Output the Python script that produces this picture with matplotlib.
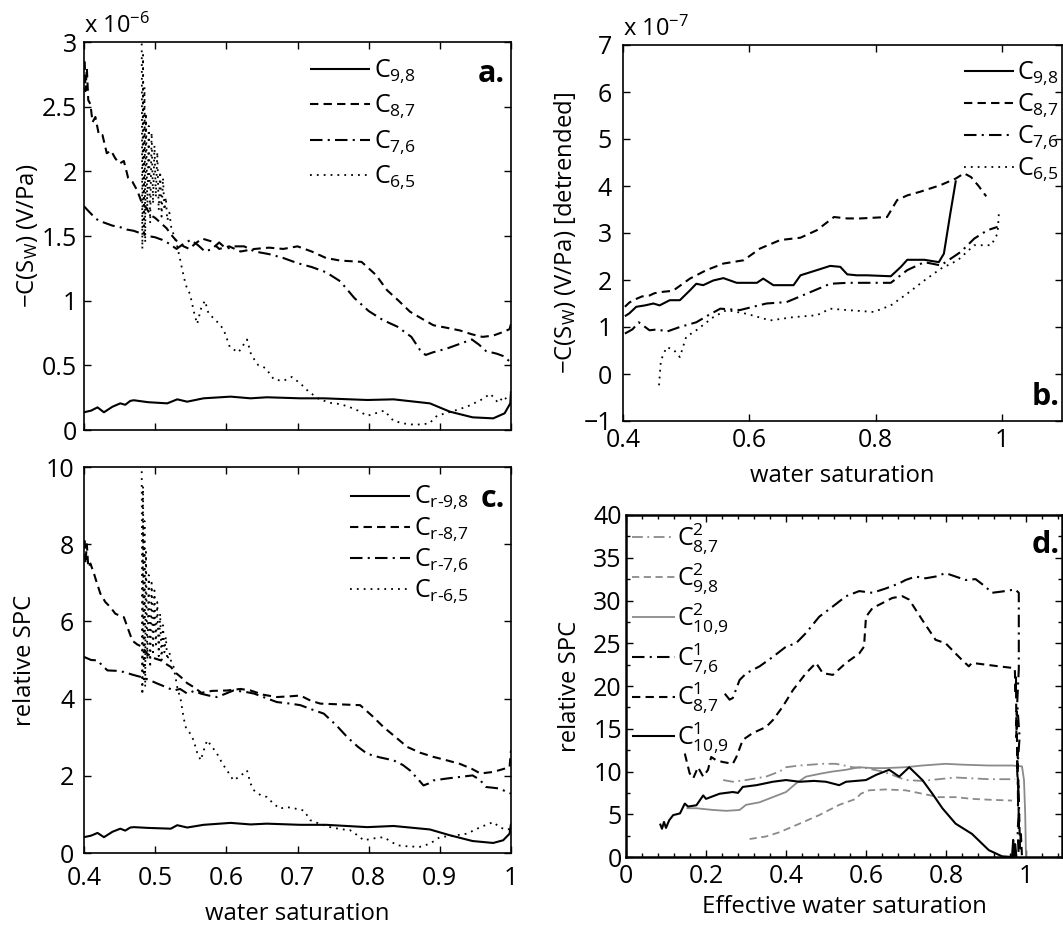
import numpy as np
import matplotlib
matplotlib.use("Agg")
import matplotlib.pyplot as plt
from matplotlib.ticker import FixedLocator, MultipleLocator

plt.rcParams['font.family'] = ['Open Sans', 'DejaVu Sans']
plt.rcParams['mathtext.fontset'] = 'custom'
plt.rcParams['mathtext.rm'] = 'Open Sans'
plt.rcParams['mathtext.it'] = 'Open Sans:italic'
plt.rcParams['mathtext.bf'] = 'Open Sans:bold'

######## data
# panel a (units of 1e-6 V/Pa)
a98_x = [0.400, 0.410, 0.419, 0.428, 0.440, 0.451, 0.458, 0.465, 0.470, 0.490, 0.517, 0.531, 0.545, 0.568, 0.606, 0.634,
         0.657, 0.704, 0.737, 0.798, 0.835, 0.886, 0.914, 0.946, 0.975, 0.991, 0.999, 1.000]
a98_y = [0.137, 0.15, 0.175, 0.137, 0.18, 0.206, 0.195, 0.225, 0.23, 0.215, 0.206, 0.237, 0.219, 0.245, 0.258, 0.245,
         0.253, 0.245, 0.245, 0.232, 0.237, 0.206, 0.142, 0.098, 0.09, 0.129, 0.206, 0.30]
a87_x = [0.401, 0.402, 0.404, 0.406, 0.409, 0.412, 0.416, 0.421, 0.426, 0.432, 0.438, 0.444, 0.450, 0.456, 0.462, 0.468,
         0.475, 0.481, 0.487, 0.494, 0.500, 0.508, 0.516, 0.524, 0.532, 0.540, 0.548, 0.556, 0.566, 0.578, 0.590, 0.604,
         0.620, 0.640, 0.660, 0.680, 0.700, 0.720, 0.740, 0.760, 0.790, 0.810, 0.826, 0.842, 0.858, 0.875, 0.891, 0.910,
         0.928, 0.945, 0.960, 0.975, 0.990, 0.998, 1.0]
a87_y = [2.85, 2.62, 2.8, 2.55, 2.52, 2.38, 2.42, 2.28, 2.28, 2.14, 2.16, 2.1, 2.06, 2.08, 1.95, 1.92,
         1.85, 1.76, 1.72, 1.66, 1.64, 1.6, 1.56, 1.5, 1.45, 1.42, 1.40, 1.44, 1.48, 1.46, 1.40, 1.42,
         1.38, 1.40, 1.41, 1.40, 1.42, 1.38, 1.33, 1.31, 1.30, 1.20, 1.08, 1.0, 0.915, 0.86, 0.81, 0.79,
         0.77, 0.74, 0.72, 0.73, 0.76, 0.78, 0.82]
a76_x = [0.400, 0.405, 0.412, 0.420, 0.430, 0.440, 0.450, 0.460, 0.470, 0.480, 0.490, 0.500, 0.510, 0.520, 0.530, 0.540,
         0.550, 0.560, 0.570, 0.580, 0.590, 0.600, 0.610, 0.625, 0.640, 0.660, 0.680, 0.700, 0.720, 0.740, 0.760, 0.780,
         0.800, 0.820, 0.840, 0.860, 0.872, 0.880, 0.890, 0.910, 0.930, 0.945, 0.955, 0.965, 0.980, 0.990, 1.0]
a76_y = [1.73, 1.70, 1.66, 1.62, 1.60, 1.58, 1.57, 1.55, 1.54, 1.52, 1.50, 1.49, 1.47, 1.44, 1.40, 1.44,
         1.47, 1.43, 1.38, 1.40, 1.45, 1.40, 1.42, 1.42, 1.38, 1.36, 1.33, 1.29, 1.26, 1.22, 1.15, 1.02,
         0.92, 0.85, 0.80, 0.72, 0.62, 0.58, 0.60, 0.63, 0.67, 0.70, 0.66, 0.61, 0.59, 0.57, 0.52]
a65_x = [0.481, 0.482, 0.483, 0.484, 0.485, 0.486, 0.487, 0.489, 0.491, 0.493, 0.495, 0.497, 0.499, 0.501, 0.503, 0.505,
         0.507, 0.509, 0.511, 0.513, 0.515, 0.517, 0.520, 0.523, 0.527, 0.531, 0.535, 0.538, 0.543, 0.549, 0.555, 0.559,
         0.565, 0.570, 0.575, 0.585, 0.596, 0.605, 0.617, 0.629, 0.635, 0.645, 0.655, 0.667, 0.680, 0.692, 0.704, 0.715,
         0.730, 0.746, 0.760, 0.772, 0.785, 0.798, 0.810, 0.822, 0.835, 0.850, 0.865, 0.885, 0.896, 0.915, 0.938, 0.957,
         0.971, 0.982, 0.990, 0.998]
a65_y = [3.2, 1.4, 2.9, 1.5, 2.65, 1.45, 2.45, 1.7, 2.35, 1.6, 2.3, 1.75, 2.2, 1.8, 2.15, 1.7,
         2.0, 1.65, 1.95, 1.7, 1.8, 1.62, 1.68, 1.55, 1.5, 1.42, 1.32, 1.24, 1.12, 1.05, 0.9, 0.82,
         0.95, 1.0, 0.9, 0.85, 0.78, 0.64, 0.6, 0.70, 0.58, 0.5, 0.48, 0.39, 0.38, 0.41, 0.36, 0.30,
         0.24, 0.21, 0.2, 0.18, 0.15, 0.11, 0.13, 0.15, 0.07, 0.05, 0.04, 0.05, 0.11, 0.14, 0.18, 0.23,
         0.28, 0.21, 0.26, 0.21]

# panel b (units of 1e-7 V/Pa, detrended)
b98_x = [0.403, 0.410, 0.421, 0.435, 0.448, 0.458, 0.474, 0.490, 0.506, 0.516, 0.527, 0.543, 0.559, 0.580, 0.612, 0.622,
         0.638, 0.670, 0.681, 0.707, 0.728, 0.744, 0.755, 0.770, 0.786, 0.824, 0.840, 0.850, 0.877, 0.900, 0.908, 0.918, 0.927]
b98_y = [1.23, 1.29, 1.43, 1.46, 1.50, 1.46, 1.57, 1.57, 1.78, 1.92, 1.89, 1.99, 2.04, 1.94, 1.94, 2.03,
         1.89, 1.89, 2.10, 2.21, 2.30, 2.28, 2.12, 2.10, 2.10, 2.08, 2.28, 2.43, 2.43, 2.38, 2.56, 3.4, 4.12]
b87_x = [0.403, 0.410, 0.418, 0.430, 0.442, 0.450, 0.464, 0.479, 0.506, 0.532, 0.559, 0.591, 0.617, 0.649, 0.681, 0.707,
         0.734, 0.755, 0.776, 0.818, 0.834, 0.850, 0.871, 0.903, 0.927, 0.940, 0.951, 0.963, 0.975]
b87_y = [1.43, 1.52, 1.58, 1.65, 1.67, 1.72, 1.75, 1.77, 2.03, 2.21, 2.35, 2.42, 2.67, 2.85, 2.90, 3.06,
         3.34, 3.31, 3.31, 3.34, 3.70, 3.80, 3.88, 4.02, 4.16, 4.27, 4.19, 4.0, 3.78]
b76_x = [0.403, 0.415, 0.425, 0.442, 0.455, 0.469, 0.490, 0.516, 0.535, 0.554, 0.585, 0.627, 0.659, 0.691, 0.728, 0.755,
         0.797, 0.824, 0.850, 0.877, 0.903, 0.935, 0.956, 0.977, 0.993]
b76_y = [0.86, 0.95, 1.1, 0.93, 0.95, 0.9, 1.0, 1.1, 1.25, 1.39, 1.36, 1.5, 1.53, 1.71, 1.92, 1.94,
         1.94, 1.94, 2.21, 2.38, 2.31, 2.6, 2.88, 3.06, 3.13]
b65_x = [0.457, 0.460, 0.469, 0.480, 0.490, 0.500, 0.516, 0.543, 0.564, 0.596, 0.633, 0.670, 0.707, 0.728, 0.755, 0.797,
         0.824, 0.850, 0.877, 0.903, 0.930, 0.956, 0.983, 0.993, 0.995]
b65_y = [-0.24, 0.29, 0.57, 0.52, 0.36, 0.79, 0.93, 1.21, 1.36, 1.28, 1.14, 1.21, 1.25, 1.39, 1.36, 1.32,
         1.46, 1.71, 1.99, 2.24, 2.42, 2.74, 2.74, 2.99, 3.41]

# panel c (relative SPC)
c98_x = [0.400, 0.410, 0.419, 0.428, 0.440, 0.451, 0.458, 0.465, 0.470, 0.490, 0.522, 0.531, 0.545, 0.568, 0.606, 0.634,
         0.657, 0.704, 0.740, 0.798, 0.835, 0.886, 0.914, 0.946, 0.975, 0.989, 0.998, 1.0]
c98_y = [0.41, 0.45, 0.52, 0.41, 0.55, 0.63, 0.58, 0.66, 0.67, 0.65, 0.63, 0.72, 0.66, 0.73, 0.78, 0.74,
         0.76, 0.73, 0.73, 0.67, 0.70, 0.61, 0.46, 0.31, 0.26, 0.33, 0.5, 0.76]
c87_x = [0.401, 0.402, 0.404, 0.406, 0.409, 0.414, 0.418, 0.423, 0.430, 0.437, 0.444, 0.450, 0.456, 0.462, 0.468, 0.475,
         0.482, 0.489, 0.498, 0.508, 0.515, 0.522, 0.530, 0.536, 0.545, 0.554, 0.565, 0.580, 0.601, 0.620, 0.634, 0.652,
         0.671, 0.690, 0.704, 0.718, 0.732, 0.760, 0.788, 0.805, 0.821, 0.838, 0.854, 0.872, 0.891, 0.910, 0.928, 0.945,
         0.957, 0.975, 0.990, 0.998, 1.0]
c87_y = [8.1, 7.5, 8.0, 7.4, 7.5, 7.24, 7.0, 6.72, 6.5, 6.37, 6.2, 6.15, 6.11, 5.8, 5.5, 5.4,
         5.34, 5.16, 5.05, 4.99, 4.9, 4.82, 4.65, 4.56, 4.4, 4.3, 4.15, 4.2, 4.21, 4.25, 4.21, 4.1,
         4.04, 4.06, 4.08, 3.95, 3.87, 3.85, 3.83, 3.55, 3.26, 3.0, 2.75, 2.6, 2.49, 2.4, 2.31, 2.18,
         2.06, 2.1, 2.18, 2.23, 2.66]
c76_x = [0.400, 0.410, 0.419, 0.426, 0.433, 0.445, 0.456, 0.468, 0.480, 0.492, 0.503, 0.515, 0.526, 0.535, 0.545, 0.555,
         0.564, 0.575, 0.587, 0.598, 0.610, 0.625, 0.639, 0.655, 0.671, 0.690, 0.704, 0.720, 0.737, 0.755, 0.770, 0.785,
         0.798, 0.815, 0.835, 0.848, 0.858, 0.870, 0.877, 0.884, 0.891, 0.910, 0.928, 0.946, 0.956, 0.965, 0.975, 0.984,
         0.992, 1.0]
c76_y = [5.08, 5.0, 4.99, 4.85, 4.73, 4.72, 4.69, 4.62, 4.56, 4.48, 4.39, 4.3, 4.21, 4.25, 4.13, 4.2,
         4.13, 4.08, 4.04, 4.12, 4.21, 4.18, 4.13, 4.02, 3.91, 3.87, 3.83, 3.72, 3.61, 3.3, 3.0, 2.75,
         2.57, 2.48, 2.4, 2.28, 2.14, 1.9, 1.75, 1.8, 1.88, 1.93, 1.97, 2.01, 1.9, 1.71, 1.69, 1.67,
         1.6, 1.54]
c65_x = [0.481, 0.482, 0.483, 0.484, 0.485, 0.486, 0.487, 0.489, 0.491, 0.493, 0.495, 0.497, 0.499, 0.501, 0.503, 0.505,
         0.507, 0.509, 0.511, 0.513, 0.515, 0.517, 0.520, 0.523, 0.526, 0.531, 0.536, 0.540, 0.543, 0.549, 0.554, 0.559,
         0.564, 0.569, 0.573, 0.580, 0.587, 0.595, 0.601, 0.610, 0.620, 0.629, 0.634, 0.639, 0.648, 0.657, 0.665, 0.675,
         0.685, 0.697, 0.709, 0.718, 0.732, 0.746, 0.760, 0.774, 0.785, 0.793, 0.808, 0.821, 0.831, 0.840, 0.856, 0.872,
         0.886, 0.900, 0.920, 0.938, 0.957, 0.975, 0.984, 0.993, 1.0]
c65_y = [10.6, 4.1, 9.5, 4.5, 8.6, 4.3, 7.8, 5.0, 7.2, 4.8, 7.0, 5.2, 6.8, 5.4, 6.5, 5.1,
         6.2, 5.0, 5.9, 5.2, 5.6, 5.0, 5.2, 4.9, 4.82, 4.3, 3.96, 3.5, 3.26, 3.1, 2.92, 2.6,
         2.4, 2.7, 2.92, 2.75, 2.57, 2.3, 2.14, 1.88, 2.0, 2.14, 1.8, 1.62, 1.5, 1.45, 1.3, 1.15,
         1.19, 1.15, 1.1, 0.85, 0.75, 0.67, 0.62, 0.59, 0.45, 0.33, 0.38, 0.41, 0.3, 0.2, 0.17, 0.16,
         0.24, 0.41, 0.45, 0.5, 0.67, 0.8, 0.67, 0.6, 0.63]

# panel d (relative SPC vs effective water saturation)
d2_87_x = [0.243, 0.267, 0.300, 0.350, 0.384, 0.400, 0.434, 0.492, 0.525, 0.566, 0.600, 0.641, 0.666, 0.699, 0.741, 0.782,
           0.824, 0.865, 0.907, 0.973]
d2_87_y = [9.0, 8.8, 9.0, 9.4, 10.0, 10.5, 10.7, 10.9, 10.9, 10.5, 10.4, 10.0, 9.6, 9.0, 8.9, 9.1,
           9.3, 9.2, 9.1, 9.1]
d2_98_x = [0.309, 0.350, 0.384, 0.434, 0.483, 0.533, 0.575, 0.587, 0.608, 0.649, 0.699, 0.741, 0.782, 0.824, 0.865, 0.907, 0.965]
d2_98_y = [2.1, 2.4, 2.9, 3.9, 4.9, 6.1, 6.8, 7.4, 7.8, 7.9, 7.8, 7.4, 7.0, 7.0, 6.8, 6.7, 6.6]
d2_109_x = [0.151, 0.176, 0.218, 0.251, 0.284, 0.300, 0.334, 0.367, 0.400, 0.425, 0.450, 0.492, 0.517, 0.550, 0.583, 0.616,
            0.649, 0.699, 0.741, 0.799, 0.841, 0.907, 0.965, 0.990, 0.995, 0.998, 1.0]
d2_109_y = [5.7, 5.7, 5.5, 5.4, 5.5, 6.1, 6.4, 7.0, 7.6, 8.6, 9.4, 9.8, 10.0, 10.2, 10.5, 10.4,
            10.4, 10.5, 10.7, 10.9, 10.8, 10.7, 10.7, 10.6, 9.0, 5.0, 0.0]
d1_76_x = [0.247, 0.259, 0.267, 0.284, 0.301, 0.334, 0.367, 0.400, 0.425, 0.450, 0.483, 0.517, 0.550, 0.583, 0.616, 0.649,
           0.683, 0.699, 0.724, 0.749, 0.774, 0.799, 0.824, 0.849, 0.874, 0.899, 0.915, 0.948, 0.973, 0.982, 0.982,
           0.978, 0.984, 0.978, 0.983, 0.979, 0.982]
d1_76_y = [19.1, 18.4, 18.6, 20.7, 21.5, 22.3, 23.4, 24.6, 25.0, 26.2, 28.1, 29.3, 30.5, 31.1, 30.9, 31.4,
           32.0, 32.4, 32.8, 32.6, 32.8, 33.2, 32.8, 32.4, 32.5, 31.6, 30.9, 31.1, 31.3, 30.9, 22.0,
           18.0, 14.0, 10.0, 6.0, 3.0, 0.0]
d1_87_x = [0.147, 0.159, 0.168, 0.180, 0.193, 0.205, 0.213, 0.226, 0.243, 0.267, 0.276, 0.292, 0.317, 0.350, 0.367, 0.392,
           0.417, 0.450, 0.475, 0.492, 0.517, 0.550, 0.583, 0.595, 0.600, 0.616, 0.641, 0.666, 0.691, 0.708, 0.741, 0.774,
           0.799, 0.824, 0.841, 0.857, 0.865, 0.899, 0.932, 0.969, 0.972, 0.974, 0.975, 0.976, 0.977, 0.978, 0.979,
           0.980, 0.981, 0.982, 0.983, 0.985, 0.987, 0.990]
d1_87_y = [12.1, 9.8, 9.2, 10.5, 9.4, 10.2, 11.7, 11.3, 11.1, 10.9, 11.7, 13.7, 14.5, 15.2, 16.0, 17.6,
           19.5, 21.5, 22.7, 21.5, 21.3, 22.7, 23.8, 24.6, 28.1, 29.1, 29.7, 30.3, 30.5, 30.1, 27.7, 25.4,
           25.0, 23.8, 23.0, 22.3, 22.7, 22.5, 22.3, 22.1, 22.0, 19.0, 21.0, 14.0, 17.0, 10.0, 13.0,
           6.0, 9.0, 3.0, 5.0, 1.0, 3.0, 0.0]
d1_109_x = [0.085, 0.090, 0.095, 0.100, 0.108, 0.118, 0.135, 0.147, 0.155, 0.176, 0.193, 0.200, 0.234, 0.267, 0.280, 0.292,
            0.326, 0.367, 0.400, 0.434, 0.470, 0.500, 0.533, 0.550, 0.600, 0.625, 0.658, 0.683, 0.708, 0.741, 0.766,
            0.791, 0.824, 0.865, 0.907, 0.940, 0.965, 0.968, 0.970, 0.973, 0.976]
d1_109_y = [3.9, 3.3, 4.1, 3.4, 4.3, 4.9, 5.1, 6.25, 5.9, 6.05, 7.2, 6.8, 7.4, 7.6, 7.5, 8.2,
            8.4, 8.8, 9.0, 8.8, 8.9, 8.8, 8.4, 8.8, 9.0, 9.6, 10.2, 9.4, 10.5, 9.0, 7.4,
            5.7, 3.9, 2.7, 0.8, 0.08, 0.0, 2.0, 0.0, 1.5, 0.0]

leg_a = [r'C$_{\text{9,8}}$', r'C$_{\text{8,7}}$', r'C$_{\text{7,6}}$', r'C$_{\text{6,5}}$']
leg_c = [r'C$_{\text{r-9,8}}$', r'C$_{\text{r-8,7}}$', r'C$_{\text{r-7,6}}$', r'C$_{\text{r-6,5}}$']
leg_d = [r'C$^{2}_{\text{8,7}}$', r'C$^{2}_{\text{9,8}}$', r'C$^{2}_{\text{10,9}}$',
         r'C$^{1}_{\text{7,6}}$', r'C$^{1}_{\text{8,7}}$', r'C$^{1}_{\text{10,9}}$']

######## styles
LW = 1.5
SOLID = (None, None)
DASH = (4, 2.5)
DASHDOT = (6, 2.5, 1, 2.5)
DOT = (1, 2.8)
GRAY = '#8a8a8a'
TICK_FS = 18
LAB_FS = 17.2
LEG_FS = 18


def line(ax, x, y, dashes, color='k', lw=LW, label=None):
    l, = ax.plot(x, y, color=color, lw=lw, label=label, solid_capstyle='butt', dash_capstyle='butt')
    if dashes != SOLID:
        l.set_dashes(dashes)
    return l


def style(ax, lw=1.2):
    ax.tick_params(direction='in', top=True, right=True, length=5, width=1, labelsize=TICK_FS)
    ax.tick_params(axis='x', pad=5)
    ax.tick_params(axis='y', pad=5)
    for s in ax.spines.values():
        s.set_linewidth(lw)


fig = plt.figure(figsize=(10.63, 9.30), dpi=100)
W, H = 1063., 930.


def axes_px(left, top, right, bottom):
    return fig.add_axes([left / W, 1 - bottom / H, (right - left) / W, (bottom - top) / H])


# ---- panel a
ax_a = axes_px(84, 42, 511, 430)
line(ax_a, a98_x, a98_y, SOLID, label=leg_a[0])
line(ax_a, a87_x, a87_y, DASH, label=leg_a[1])
line(ax_a, a76_x, a76_y, DASHDOT, label=leg_a[2])
line(ax_a, a65_x, a65_y, DOT, lw=1.3, label=leg_a[3])
ax_a.set_xlim(0.4, 1.0)
ax_a.set_ylim(0, 3)
ax_a.xaxis.set_major_locator(FixedLocator([0.4, 0.5, 0.6, 0.7, 0.8, 0.9, 1.0]))
ax_a.set_xticklabels([])
ax_a.yaxis.set_major_locator(FixedLocator([0, 0.5, 1, 1.5, 2, 2.5, 3]))
ax_a.set_yticklabels(['0', '0.5', '1', '1.5', '2', '2.5', '3'])
ax_a.set_ylabel('\u2212C(S$_\\mathrm{W}$) (V/Pa)', fontsize=LAB_FS, labelpad=1)
ax_a.text(0.0, 1.008, 'x 10$^{-6}$', transform=ax_a.transAxes, fontsize=17, ha='left', va='bottom')
ax_a.text(0.985, 0.955, 'a.', transform=ax_a.transAxes, fontsize=22, fontweight='bold', ha='right', va='top')
ax_a.legend(loc='upper left', bbox_to_anchor=(0.53, 0.96), frameon=False, fontsize=LEG_FS, handlelength=2.4,
            handletextpad=0.15, labelspacing=0.3, borderpad=0, borderaxespad=0)
style(ax_a)

# ---- panel b
ax_b = axes_px(623, 45, 1062, 421)
line(ax_b, b98_x, b98_y, SOLID, label=leg_a[0])
line(ax_b, b87_x, b87_y, DASH, label=leg_a[1])
line(ax_b, b76_x, b76_y, DASHDOT, label=leg_a[2])
line(ax_b, b65_x, b65_y, DOT, lw=1.3, label=leg_a[3])
ax_b.set_xlim(0.4, 1.095)
ax_b.set_ylim(-1, 7)
ax_b.xaxis.set_major_locator(FixedLocator([0.4, 0.6, 0.8, 1.0]))
ax_b.set_xticklabels(['0.4', '0.6', '0.8', '1'])
ax_b.yaxis.set_major_locator(FixedLocator(list(range(-1, 8))))
ax_b.set_yticklabels(['\u22121'] + [str(v) for v in range(0, 8)])
ax_b.set_xlabel('water saturation', fontsize=LAB_FS, labelpad=8)
ax_b.set_ylabel('\u2212C(S$_\\mathrm{W}$) (V/Pa) [detrended]', fontsize=LAB_FS, labelpad=4)
ax_b.text(0.0, 1.008, 'x 10$^{-7}$', transform=ax_b.transAxes, fontsize=17, ha='left', va='bottom')
ax_b.text(0.995, 0.025, 'b.', transform=ax_b.transAxes, fontsize=22, fontweight='bold', ha='right', va='bottom')
ax_b.legend(loc='upper left', bbox_to_anchor=(0.776, 0.96), frameon=False, fontsize=LEG_FS, handlelength=2.0,
            handletextpad=0.15, labelspacing=0.15, borderpad=0, borderaxespad=0)
style(ax_b)
ax_b.tick_params(axis='y', pad=8)

# ---- panel c
ax_c = axes_px(84, 467, 511, 853)
line(ax_c, c98_x, c98_y, SOLID, label=leg_c[0])
line(ax_c, c87_x, c87_y, DASH, label=leg_c[1])
line(ax_c, c76_x, c76_y, DASHDOT, label=leg_c[2])
line(ax_c, c65_x, c65_y, DOT, lw=1.3, label=leg_c[3])
ax_c.set_xlim(0.4, 1.0)
ax_c.set_ylim(0, 10)
ax_c.xaxis.set_major_locator(FixedLocator([0.4, 0.5, 0.6, 0.7, 0.8, 0.9, 1.0]))
ax_c.set_xticklabels(['0.4', '0.5', '0.6', '0.7', '0.8', '0.9', '1'])
ax_c.yaxis.set_major_locator(FixedLocator([0, 2, 4, 6, 8, 10]))
ax_c.set_yticklabels(['0', '2', '4', '6', '8', '10'])
ax_c.set_xlabel('water saturation', fontsize=LAB_FS, labelpad=8)
ax_c.set_ylabel('relative SPC', fontsize=LAB_FS, labelpad=6)
ax_c.text(0.985, 0.955, 'c.', transform=ax_c.transAxes, fontsize=22, fontweight='bold', ha='right', va='top')
ax_c.legend(loc='upper left', bbox_to_anchor=(0.623, 0.955), frameon=False, fontsize=LEG_FS, handlelength=2.4,
            handletextpad=0.15, labelspacing=0.12, borderpad=0, borderaxespad=0)
style(ax_c)
ax_c.tick_params(axis='x', pad=9)
ax_c.tick_params(axis='y', pad=7)

# ---- panel d
ax_d = axes_px(626, 515, 1062, 857)
line(ax_d, d2_87_x, d2_87_y, DASHDOT, color=GRAY, lw=1.3, label=leg_d[0])
line(ax_d, d2_98_x, d2_98_y, DASH, color=GRAY, lw=1.3, label=leg_d[1])
line(ax_d, d2_109_x, d2_109_y, SOLID, color=GRAY, lw=1.3, label=leg_d[2])
line(ax_d, d1_76_x, d1_76_y, DASHDOT, label=leg_d[3])
line(ax_d, d1_87_x, d1_87_y, DASH, label=leg_d[4])
line(ax_d, d1_109_x, d1_109_y, SOLID, label=leg_d[5])
ax_d.set_xlim(0, 1.09)
ax_d.set_ylim(0, 40)
ax_d.xaxis.set_major_locator(FixedLocator([0, 0.2, 0.4, 0.6, 0.8, 1.0]))
ax_d.set_xticklabels(['0', '0.2', '0.4', '0.6', '0.8', '1'])
ax_d.xaxis.set_minor_locator(MultipleLocator(0.04))
ax_d.yaxis.set_major_locator(FixedLocator(list(range(0, 41, 5))))
ax_d.set_yticklabels([str(v) for v in range(0, 41, 5)])
ax_d.yaxis.set_minor_locator(MultipleLocator(2.5))
ax_d.set_xlabel('Effective water saturation', fontsize=LAB_FS, labelpad=4)
ax_d.set_ylabel('relative SPC', fontsize=LAB_FS, labelpad=8)
ax_d.text(0.995, 0.955, 'd.', transform=ax_d.transAxes, fontsize=22, fontweight='bold', ha='right', va='top')
ax_d.legend(loc='upper left', bbox_to_anchor=(0.014, 0.98), frameon=False, fontsize=LEG_FS, handlelength=1.7,
            handletextpad=0.1, labelspacing=0.18, borderpad=0, borderaxespad=0)
style(ax_d, lw=1.8)
ax_d.tick_params(axis='y', pad=3)
ax_d.tick_params(which='minor', direction='in', top=True, right=True, length=3, width=1)

fig.savefig('out.png', dpi=100)
